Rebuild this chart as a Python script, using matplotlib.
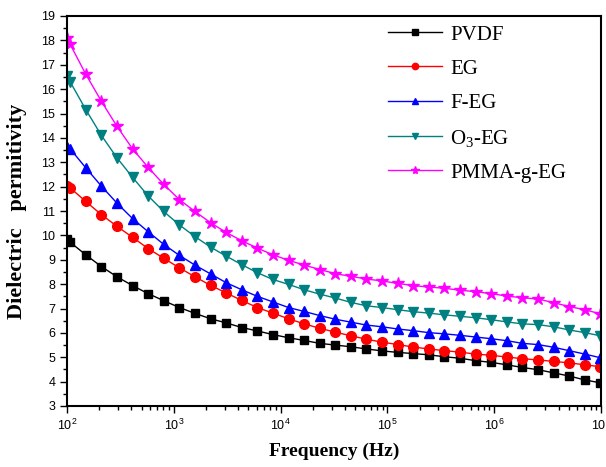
import matplotlib
matplotlib.use("Agg")
import matplotlib.pyplot as plt
from matplotlib.ticker import FixedLocator, LogLocator, FuncFormatter, NullFormatter
import numpy as np

# Frequency grid (Hz)
freq = [100, 107, 150, 210, 294, 411, 575, 805, 1127, 1578, 2208, 3090, 4325,
        6053, 8472, 11858, 16596, 23227, 32509, 45499, 63680, 89125, 124738,
        174582, 244343, 341979, 478630, 669885, 937562, 1312196, 1836538,
        2570396, 3597493, 5035006, 7046930, 9862795]

# Dielectric permitivity for each sample
pvdf = [9.85, 9.72, 9.20, 8.72, 8.30, 7.94, 7.61, 7.32, 7.04, 6.80, 6.58, 6.41,
        6.22, 6.08, 5.93, 5.80, 5.69, 5.57, 5.50, 5.43, 5.34, 5.26, 5.20, 5.15,
        5.10, 5.02, 4.96, 4.86, 4.79, 4.69, 4.58, 4.49, 4.36, 4.23, 4.07, 3.95]
eg = [12.01, 11.95, 11.39, 10.85, 10.37, 9.92, 9.46, 9.06, 8.67, 8.30, 7.95,
      7.64, 7.33, 7.04, 6.81, 6.58, 6.37, 6.19, 6.03, 5.88, 5.74, 5.62, 5.52,
      5.42, 5.34, 5.27, 5.21, 5.13, 5.08, 5.01, 4.94, 4.89, 4.83, 4.77, 4.69,
      4.61]
f_eg = [13.62, 13.55, 12.77, 12.02, 11.32, 10.69, 10.15, 9.63, 9.18, 8.78,
        8.42, 8.06, 7.77, 7.50, 7.27, 7.04, 6.88, 6.71, 6.56, 6.44, 6.32, 6.25,
        6.16, 6.09, 6.01, 5.96, 5.90, 5.83, 5.76, 5.68, 5.57, 5.52, 5.41, 5.27,
        5.13, 4.98]
o3_eg = [16.53, 16.30, 15.16, 14.10, 13.18, 12.38, 11.62, 10.98, 10.43, 9.95,
         9.52, 9.15, 8.80, 8.47, 8.19, 7.99, 7.77, 7.59, 7.43, 7.25, 7.11, 7.04,
         6.95, 6.87, 6.81, 6.74, 6.68, 6.62, 6.54, 6.45, 6.37, 6.34, 6.25, 6.12,
         6.01, 5.88]
pmma_eg = [18.09, 17.84, 16.61, 15.50, 14.47, 13.55, 12.79, 12.09, 11.47,
           10.98, 10.52, 10.12, 9.78, 9.48, 9.20, 8.98, 8.78, 8.60, 8.43, 8.32,
           8.21, 8.13, 8.03, 7.94, 7.88, 7.83, 7.75, 7.69, 7.61, 7.51, 7.44,
           7.39, 7.24, 7.08, 6.95, 6.78]

series = [
    ("PVDF", pvdf, "black", "s", 6),
    ("EG", eg, "red", "o", 7),
    ("F-EG", f_eg, "blue", "^", 7.5),
    (r"$\mathregular{O_3}$-EG", o3_eg, "#008080", "v", 7.5),
    ("PMMA-g-EG", pmma_eg, "magenta", "*", 9),
]

fig = plt.figure(figsize=(6.06, 4.67), dpi=100)
ax = fig.add_axes([67 / 606, 61 / 467, 534 / 606, 390 / 467])

for label, vals, color, marker, ms in series:
    ax.plot(freq, vals, color=color, marker=marker, markersize=ms,
            linewidth=1, label=label)

ax.set_xscale("log")
ax.set_xlim(1e2, 1e7)
ax.set_ylim(3, 19)

# ticks
ax.yaxis.set_major_locator(FixedLocator(np.arange(3, 20, 1)))
ax.yaxis.set_minor_locator(FixedLocator(np.arange(3.5, 19, 1)))
ax.xaxis.set_major_locator(LogLocator(base=10, numticks=10))
ax.xaxis.set_minor_locator(LogLocator(base=10, subs=np.arange(2, 10), numticks=20))
ax.xaxis.set_minor_formatter(NullFormatter())
ax.xaxis.set_major_formatter(FuncFormatter(
    lambda v, p: r"$\mathregular{10^{%d}}$" % round(np.log10(v))))

ax.tick_params(which="both", direction="out", top=False, right=False, width=1)
ax.tick_params(which="major", length=5)
ax.tick_params(which="minor", length=3)
for lab in ax.get_xticklabels() + ax.get_yticklabels():
    lab.set_fontfamily("Liberation Sans")
    lab.set_fontsize(9)

for sp in ax.spines.values():
    sp.set_linewidth(1.5)

ax.set_xlabel("Frequency (Hz)", fontfamily="Liberation Serif",
              fontweight="bold", fontsize=14, labelpad=7)
ax.set_ylabel("Dielectric   permitivity", fontfamily="Liberation Serif",
              fontweight="bold", fontsize=16, labelpad=10)

ax.legend(loc="upper right", frameon=False, markerscale=0.65,
          prop={"family": "Liberation Serif", "size": 15},
          handlelength=2.6, handletextpad=0.4, labelspacing=0.7,
          bbox_to_anchor=(0.97, 1.025))

fig.savefig("out.png", dpi=100)
